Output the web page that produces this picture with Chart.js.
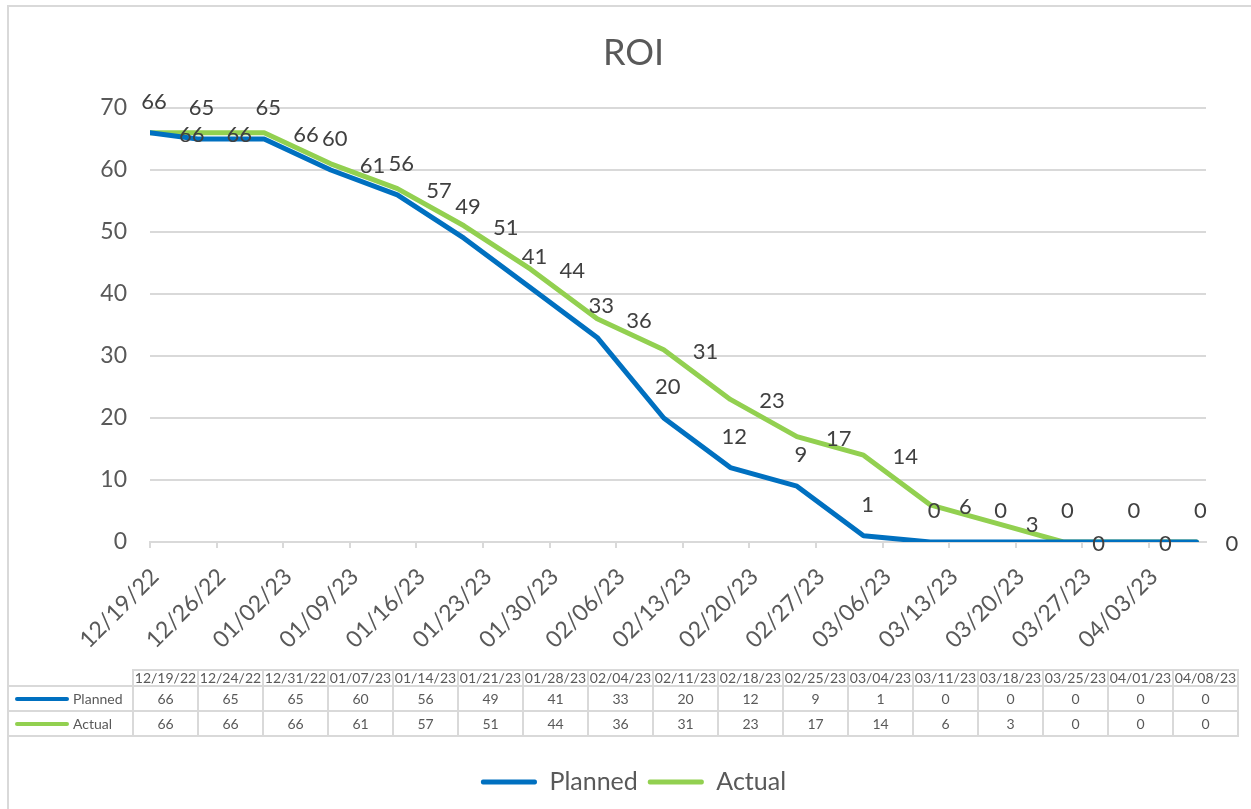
<!DOCTYPE html>
<html>
<head>
<meta charset="utf-8">
<title>ROI</title>
<script src="https://cdn.jsdelivr.net/npm/chart.js@4.4.0/dist/chart.umd.min.js"></script>
<style>
  html, body { margin: 0; padding: 0; width: 1251px; height: 809px; overflow: hidden; background: #fff; }
  #frame { position: absolute; left: 7px; top: 5px; width: 1300px; height: 900px; border: 2px solid #d9d9d9; box-sizing: border-box; }
  #roi { position: absolute; left: 0; top: 0; }
  #data-table { position: absolute; left: 9px; top: 669px; border-collapse: collapse; table-layout: fixed;
    font-family: Lato, sans-serif; font-size: 14px; color: #595959; }
  #data-table td { border: 2px solid #d9d9d9; padding: 0; text-align: center; white-space: nowrap; overflow: hidden; }
  #data-table tr.head td { height: 14px; line-height: 14px; }
  #data-table tr.row td { height: 23px; line-height: 23px; }
  #data-table td.corner { border-top: none; border-left: none; }
  #data-table td.name { text-align: left; padding-left: 6px; border-left: none; }
  .key { display: inline-block; width: 54px; height: 4px; border-radius: 2px; vertical-align: middle; margin-right: 4px; margin-top: -2px; }
</style>
</head>
<body>
<div id="frame"></div>
<canvas id="roi" width="1267" height="809"></canvas>
<table id="data-table"></table>
<script>
(()=>{
  // data
  const dates = ['12/19/22','12/24/22','12/31/22','01/07/23','01/14/23','01/21/23','01/28/23','02/04/23','02/11/23',
                 '02/18/23','02/25/23','03/04/23','03/11/23','03/18/23','03/25/23','04/01/23','04/08/23'];
  const planned = [66, 65, 65, 60, 56, 49, 41, 33, 20, 12, 9, 1, 0, 0, 0, 0, 0];
  const actual  = [66, 66, 66, 61, 57, 51, 44, 36, 31, 23, 17, 14, 6, 3, 0, 0, 0];
  const tickLabels = ['12/19/22','12/26/22','01/02/23','01/09/23','01/16/23','01/23/23','01/30/23','02/06/23',
                      '02/13/23','02/20/23','02/27/23','03/06/23','03/13/23','03/20/23','03/27/23','04/03/23'];
  const yTicks = [0, 10, 20, 30, 40, 50, 60, 70];

  const blue = '#0070c0';
  const green = '#92d050';
  const grey = '#595959';
  const gridGrey = '#d9d9d9';

  function dayNum(s){
    const [m, d, y] = s.split('/').map(Number);
    return Date.UTC(2000 + y, m - 1, d) / 86400000;
  }
  const day0 = dayNum(dates[0]);
  const xs = dates.map(s => dayNum(s) - day0);
  const toPoints = vals => vals.map((v, i) => ({x: xs[i], y: v}));

  const pointLabels = {
    id: 'pointLabels',
    afterDatasetsDraw(chart){
      const ctx = chart.ctx;
      ctx.save();
      ctx.font = '22px Lato';
      ctx.fillStyle = '#404040';
      ctx.textBaseline = 'middle';
      chart.data.datasets.forEach((ds, i) => {
        const meta = chart.getDatasetMeta(i);
        if (!chart.isDatasetVisible(i)) return;
        meta.data.forEach((pt, j) => {
          const v = ds.data[j].y;
          if (ds.labelPos === 'above') {
            ctx.textAlign = 'center';
            ctx.fillText(v, pt.x + 4, pt.y - 31);
          } else {
            ctx.textAlign = 'left';
            ctx.fillText(v, pt.x + 29, pt.y + 2);
          }
        });
      });
      ctx.restore();
    }
  };

  new Chart(document.getElementById('roi').getContext('2d'), {
    type: 'line',
    data: {
      datasets: [
        { label: 'Planned', data: toPoints(planned), borderColor: blue, backgroundColor: blue, labelPos: 'above' },
        { label: 'Actual', data: toPoints(actual), borderColor: green, backgroundColor: green, labelPos: 'right' }
      ]
    },
    options: {
      responsive: false,
      animation: false,
      devicePixelRatio: 1,
      layout: { padding: { left: 0, right: 0, top: 0, bottom: 4.5 } },
      elements: {
        line: { borderWidth: 5, borderCapStyle: 'round', borderJoinStyle: 'round', tension: 0 },
        point: { radius: 0, hoverRadius: 0 }
      },
      scales: {
        x: {
          type: 'linear',
          min: 0,
          max: 111,
          afterFit(s){ s.height = 217.5; },
          border: { display: true, color: gridGrey, width: 2 },
          grid: { drawOnChartArea: false, drawTicks: true, tickLength: 6, color: gridGrey, lineWidth: 2 },
          ticks: {
            stepSize: 7,
            includeBounds: false,
            autoSkip: false,
            minRotation: 45,
            maxRotation: 45,
            padding: 15,
            labelOffset: 5,
            color: grey,
            font: { family: 'Lato', size: 23 },
            callback: v => (v % 7 === 0 ? tickLabels[v / 7] : '')
          }
        },
        y: {
          min: 0,
          max: 70,
          afterFit(s){ s.width = 150; },
          afterBuildTicks(s){ s.ticks = yTicks.map(v => ({value: v})); },
          border: { display: false },
          grid: { drawTicks: false, color: gridGrey, lineWidth: 2 },
          ticks: { padding: 23, color: grey, font: { family: 'Lato', size: 23 } }
        },
        y2: {
          position: 'right',
          min: 0,
          max: 70,
          afterFit(s){ s.width = 61; },
          border: { display: false },
          grid: { display: false },
          ticks: { display: false }
        }
      },
      plugins: {
        title: {
          display: true,
          text: 'ROI',
          color: grey,
          font: { family: 'Lato', size: 36, weight: 'normal' },
          padding: { top: 31.4, bottom: 33.4 }
        },
        legend: {
          position: 'bottom',
          labels: {
            color: grey,
            font: { family: 'Lato', size: 25 },
            boxWidth: 56,
            boxHeight: 5,
            useBorderRadius: true,
            borderRadius: 2,
            padding: 10,
            sort: (a, b) => a.datasetIndex - b.datasetIndex,
            generateLabels(chart){
              const items = Chart.defaults.plugins.legend.labels.generateLabels(chart);
              items.forEach(it => { it.lineWidth = 0; it.fillStyle = it.strokeStyle; });
              return items;
            }
          }
        },
        tooltip: { enabled: false }
      }
    },
    plugins: [pointLabels]
  });

  // data table under the axis
  const table = document.getElementById('data-table');
  const cols = document.createElement('colgroup');
  let html = '<col style="width:124px">';
  dates.forEach(() => { html += '<col style="width:65px">'; });
  cols.innerHTML = html;
  table.appendChild(cols);

  const head = document.createElement('tr');
  head.className = 'head';
  head.innerHTML = '<td class="corner"></td>' + dates.map(d => '<td>' + d + '</td>').join('');
  table.appendChild(head);

  [['Planned', planned, blue], ['Actual', actual, green]].forEach(([name, vals, col]) => {
    const tr = document.createElement('tr');
    tr.className = 'row';
    tr.innerHTML = '<td class="name"><span class="key" style="background:' + col + '"></span>' + name + '</td>' +
      vals.map(v => '<td>' + v + '</td>').join('');
    table.appendChild(tr);
  });
})();
</script>
</body>
</html>
